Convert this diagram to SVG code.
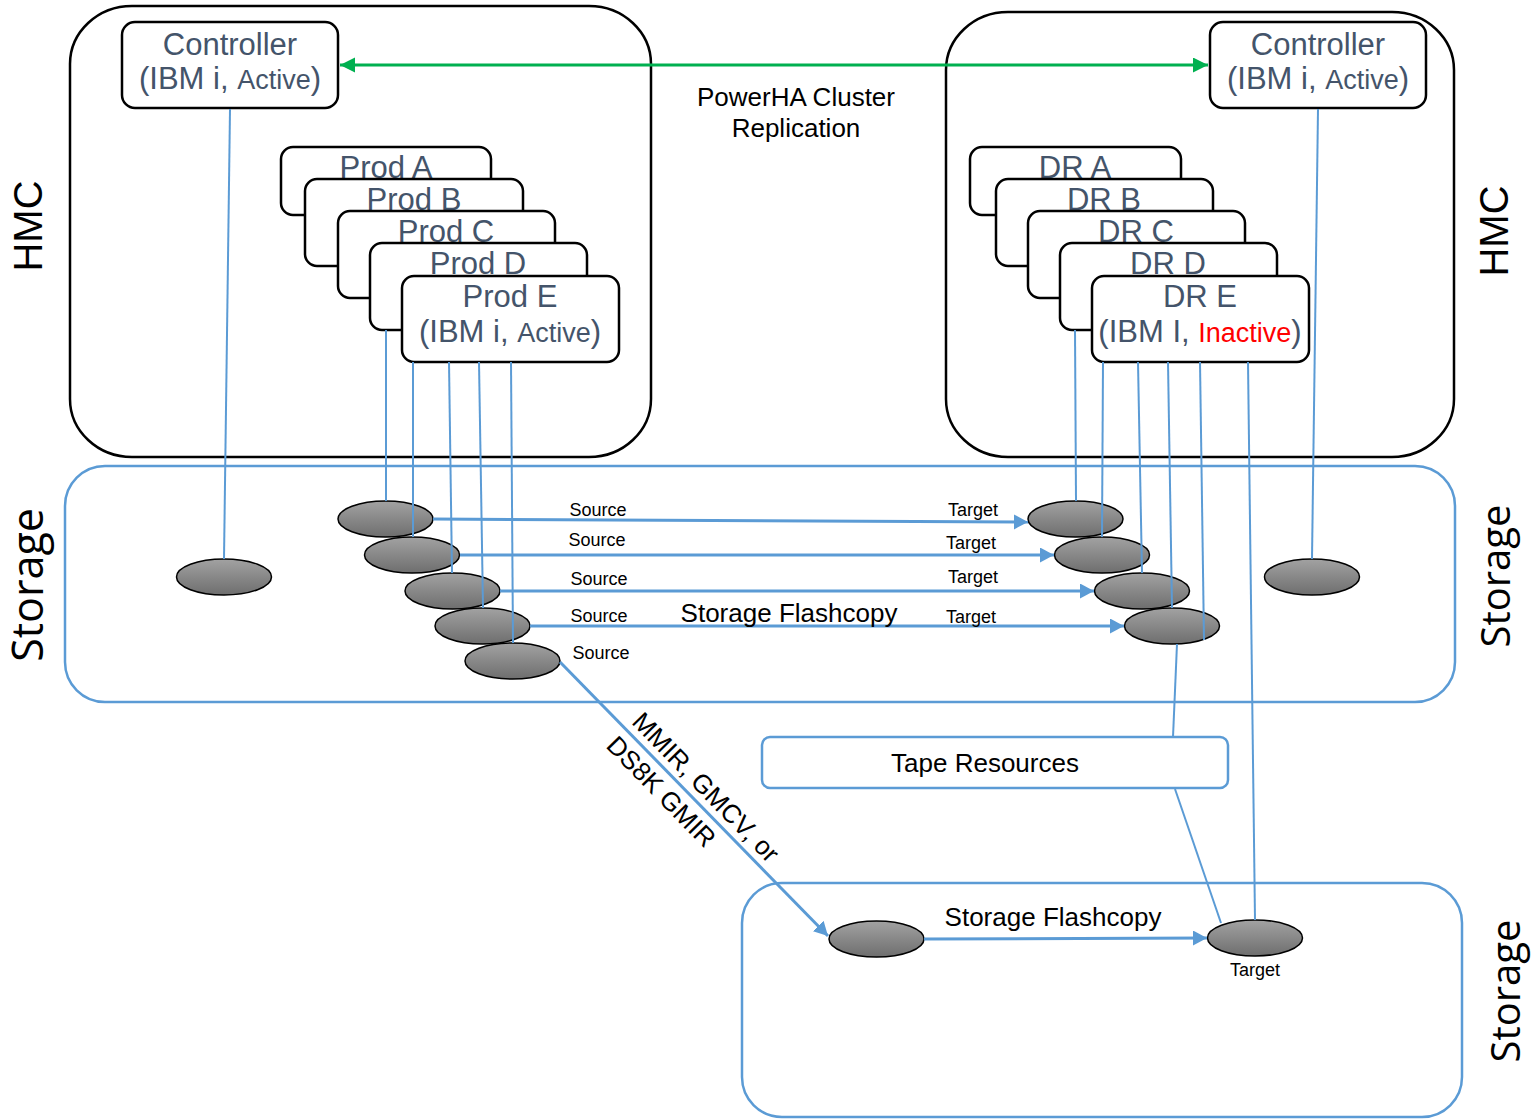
<svg xmlns="http://www.w3.org/2000/svg" width="1535" height="1119" viewBox="0 0 1535 1119">
<style>
.hmc{fill:none;stroke:#000;stroke-width:2.5}
.box{fill:#fff;stroke:#000;stroke-width:2.5}
.nt{font-family:"Liberation Sans",Arial,sans-serif;font-size:31px;fill:#44546A;text-anchor:middle}
.sm{font-size:27px}
.red{fill:#FF0000}
.stor{fill:none;stroke:#5B9BD5;stroke-width:2.5}
.tape{fill:#fff;stroke:#5B9BD5;stroke-width:2.5}
.disk{fill:url(#dg);stroke:#000;stroke-width:1.5}
.ln{stroke:#5B9BD5;stroke-width:2;fill:none}
.arr{stroke:#5B9BD5;stroke-width:3;fill:none;marker-end:url(#ab)}
.lbl{font-family:"Liberation Sans",Arial,sans-serif;fill:#000;text-anchor:middle}
.s18{font-size:18px}
.s26{font-size:26px}
.side{font-family:"Open Sans","Liberation Sans",sans-serif;fill:#000;text-anchor:middle}
</style>
<defs>
<linearGradient id="dg" x1="0" y1="0" x2="0" y2="1">
<stop offset="0" stop-color="#A2A2A2"/>
<stop offset="1" stop-color="#6E6E6E"/>
</linearGradient>
<marker id="ab" markerUnits="userSpaceOnUse" markerWidth="16" markerHeight="16" refX="14" refY="7.5" orient="auto">
<path d="M0,0 L14,7.5 L0,15 z" fill="#5B9BD5"/>
</marker>
<marker id="ag" markerUnits="userSpaceOnUse" markerWidth="17" markerHeight="17" refX="15" refY="7.5" orient="auto-start-reverse">
<path d="M0,0 L15,7.5 L0,15 z" fill="#00B050"/>
</marker>
</defs>
<rect width="1535" height="1119" fill="#fff"/>

<!-- containers -->
<g id="hmc-left"><rect class="hmc" x="70" y="6" width="581" height="451" rx="62" ry="58"/></g>
<g id="hmc-right"><rect class="hmc" x="946" y="12" width="508" height="445" rx="62" ry="58"/></g>
<g id="storage-main"><rect class="stor" x="65" y="466" width="1390" height="236" rx="40"/></g>
<g id="storage-dr"><rect class="stor" x="742" y="883" width="720" height="234" rx="40"/></g>

<!-- side labels -->
<g id="labels">
<text class="lbl" font-size="40" transform="translate(42,226) rotate(-90)">HMC</text>
<text class="lbl" font-size="40" transform="translate(1508,231) rotate(-90)">HMC</text>
<text class="side" font-size="43" transform="translate(43,585) rotate(-90)">Storage</text>
<text class="side" font-size="40" transform="translate(1510,576) rotate(-90)">Storage</text>
<text class="side" font-size="40" transform="translate(1520,991) rotate(-90)">Storage</text>
<text class="lbl s26" x="796" y="106">PowerHA Cluster</text>
<text class="lbl s26" x="796" y="137">Replication</text>
</g>

<!-- nodes -->
<g id="controller-prod"><rect class="box" x="122" y="22" width="216" height="86" rx="13"/>
<text class="nt" x="230" y="55">Controller</text>
<text class="nt" x="230" y="89">(IBM i, <tspan class="sm">Active</tspan>)</text></g>
<g id="controller-dr"><rect class="box" x="1210" y="22" width="216" height="86" rx="13"/>
<text class="nt" x="1318" y="55">Controller</text>
<text class="nt" x="1318" y="89">(IBM i, <tspan class="sm">Active</tspan>)</text></g>

<g id="prod-a"><rect class="box" x="281" y="147" width="210" height="68" rx="12"/><text class="nt" x="386" y="178">Prod A</text></g>
<g id="prod-b"><rect class="box" x="305" y="179" width="218" height="87" rx="12"/><text class="nt" x="414" y="210">Prod B</text></g>
<g id="prod-c"><rect class="box" x="338" y="211" width="217" height="87" rx="12"/><text class="nt" x="446" y="242">Prod C</text></g>
<g id="prod-d"><rect class="box" x="370" y="243" width="217" height="87" rx="12"/><text class="nt" x="478" y="274">Prod D</text></g>
<g id="prod-e"><rect class="box" x="402" y="276" width="217" height="86" rx="12"/><text class="nt" x="510" y="307">Prod E</text>
<text class="nt" x="510" y="342">(IBM i, <tspan class="sm">Active</tspan>)</text></g>

<g id="dr-a"><rect class="box" x="970" y="147" width="211" height="68" rx="12"/><text class="nt" x="1075" y="178">DR A</text></g>
<g id="dr-b"><rect class="box" x="996" y="179" width="217" height="87" rx="12"/><text class="nt" x="1104" y="210">DR B</text></g>
<g id="dr-c"><rect class="box" x="1028" y="211" width="217" height="87" rx="12"/><text class="nt" x="1136" y="242">DR C</text></g>
<g id="dr-d"><rect class="box" x="1060" y="243" width="217" height="87" rx="12"/><text class="nt" x="1168" y="274">DR D</text></g>
<g id="dr-e"><rect class="box" x="1092" y="276" width="217" height="86" rx="12"/><text class="nt" x="1200" y="307">DR E</text>
<text class="nt" x="1200" y="342">(IBM I, <tspan class="sm red">Inactive</tspan>)</text></g>

<g id="tape"><rect class="tape" x="762" y="737" width="466" height="51" rx="8"/>
<text class="lbl s26" x="985" y="772">Tape Resources</text></g>

<!-- disks -->
<g id="disk-ctl-prod"><ellipse class="disk" cx="224" cy="577" rx="47.5" ry="18"/></g>
<g id="disk-src-1"><ellipse class="disk" cx="385.5" cy="519" rx="47.5" ry="18"/></g>
<g id="disk-src-2"><ellipse class="disk" cx="412" cy="555" rx="47.5" ry="18"/></g>
<g id="disk-src-3"><ellipse class="disk" cx="452.5" cy="591" rx="47.5" ry="18"/></g>
<g id="disk-src-4"><ellipse class="disk" cx="482.5" cy="626" rx="47.5" ry="18"/></g>
<g id="disk-src-5"><ellipse class="disk" cx="512.5" cy="661" rx="47.5" ry="18"/></g>
<g id="disk-tgt-1"><ellipse class="disk" cx="1075.5" cy="519" rx="47.5" ry="18"/></g>
<g id="disk-tgt-2"><ellipse class="disk" cx="1102" cy="555" rx="47.5" ry="18"/></g>
<g id="disk-tgt-3"><ellipse class="disk" cx="1142" cy="591" rx="47.5" ry="18"/></g>
<g id="disk-tgt-4"><ellipse class="disk" cx="1172" cy="626" rx="47.5" ry="18"/></g>
<g id="disk-ctl-dr"><ellipse class="disk" cx="1312" cy="577" rx="47.5" ry="18"/></g>
<g id="disk-remote-src"><ellipse class="disk" cx="876.5" cy="939" rx="47.5" ry="18"/></g>
<g id="disk-remote-tgt"><ellipse class="disk" cx="1255" cy="938" rx="47.5" ry="18"/></g>

<!-- connectors -->
<g id="connectors">
<path d="M340,65 L1208,65" stroke="#00B050" stroke-width="3" fill="none" marker-start="url(#ag)" marker-end="url(#ag)"/>
<path class="ln" d="M230,109 L224,559"/>
<path class="ln" d="M386,330 L386,501"/>
<path class="ln" d="M413,362 L413,537"/>
<path class="ln" d="M449,362 L452,573"/>
<path class="ln" d="M479,362 L483,608"/>
<path class="ln" d="M511,362 L513,643"/>
<path class="ln" d="M1075,330 L1076,501"/>
<path class="ln" d="M1103,362 L1102,537"/>
<path class="ln" d="M1138,362 L1142,573"/>
<path class="ln" d="M1168,362 L1172,608"/>
<path class="ln" d="M1200,362 L1204,640"/>
<path class="ln" d="M1248,362 L1255,920"/>
<path class="ln" d="M1318,109 L1312,559"/>
<path class="ln" d="M1177,644 L1173,737"/>
<path class="ln" d="M1175,789 L1221,923"/>
<path class="arr" d="M433,519 L1028,522"/>
<path class="arr" d="M460,555 L1054,555"/>
<path class="arr" d="M500,591 L1094,591"/>
<path class="arr" d="M530,626 L1124,626"/>
<path class="arr" d="M560,662 L828,936"/>
<path class="arr" d="M924,939 L1207,938"/>
</g>

<!-- connector labels -->
<g id="connector-labels">
<text class="lbl s18" x="598" y="516">Source</text>
<text class="lbl s18" x="597" y="546">Source</text>
<text class="lbl s18" x="599" y="585">Source</text>
<text class="lbl s18" x="599" y="622">Source</text>
<text class="lbl s18" x="601" y="659">Source</text>
<text class="lbl s18" x="973" y="516">Target</text>
<text class="lbl s18" x="971" y="549">Target</text>
<text class="lbl s18" x="973" y="583">Target</text>
<text class="lbl s18" x="971" y="623">Target</text>
<text class="lbl s18" x="1255" y="976">Target</text>
<text class="lbl s26" x="789" y="622">Storage Flashcopy</text>
<text class="lbl s26" x="1053" y="926">Storage Flashcopy</text>
<g transform="translate(684,789) rotate(45.7)">
<text class="lbl s26" x="14" y="-8">MMIR, GMCV, or</text>
<text class="lbl s26" x="-14" y="27">DS8K GMIR</text>
</g>
</g>
</svg>
